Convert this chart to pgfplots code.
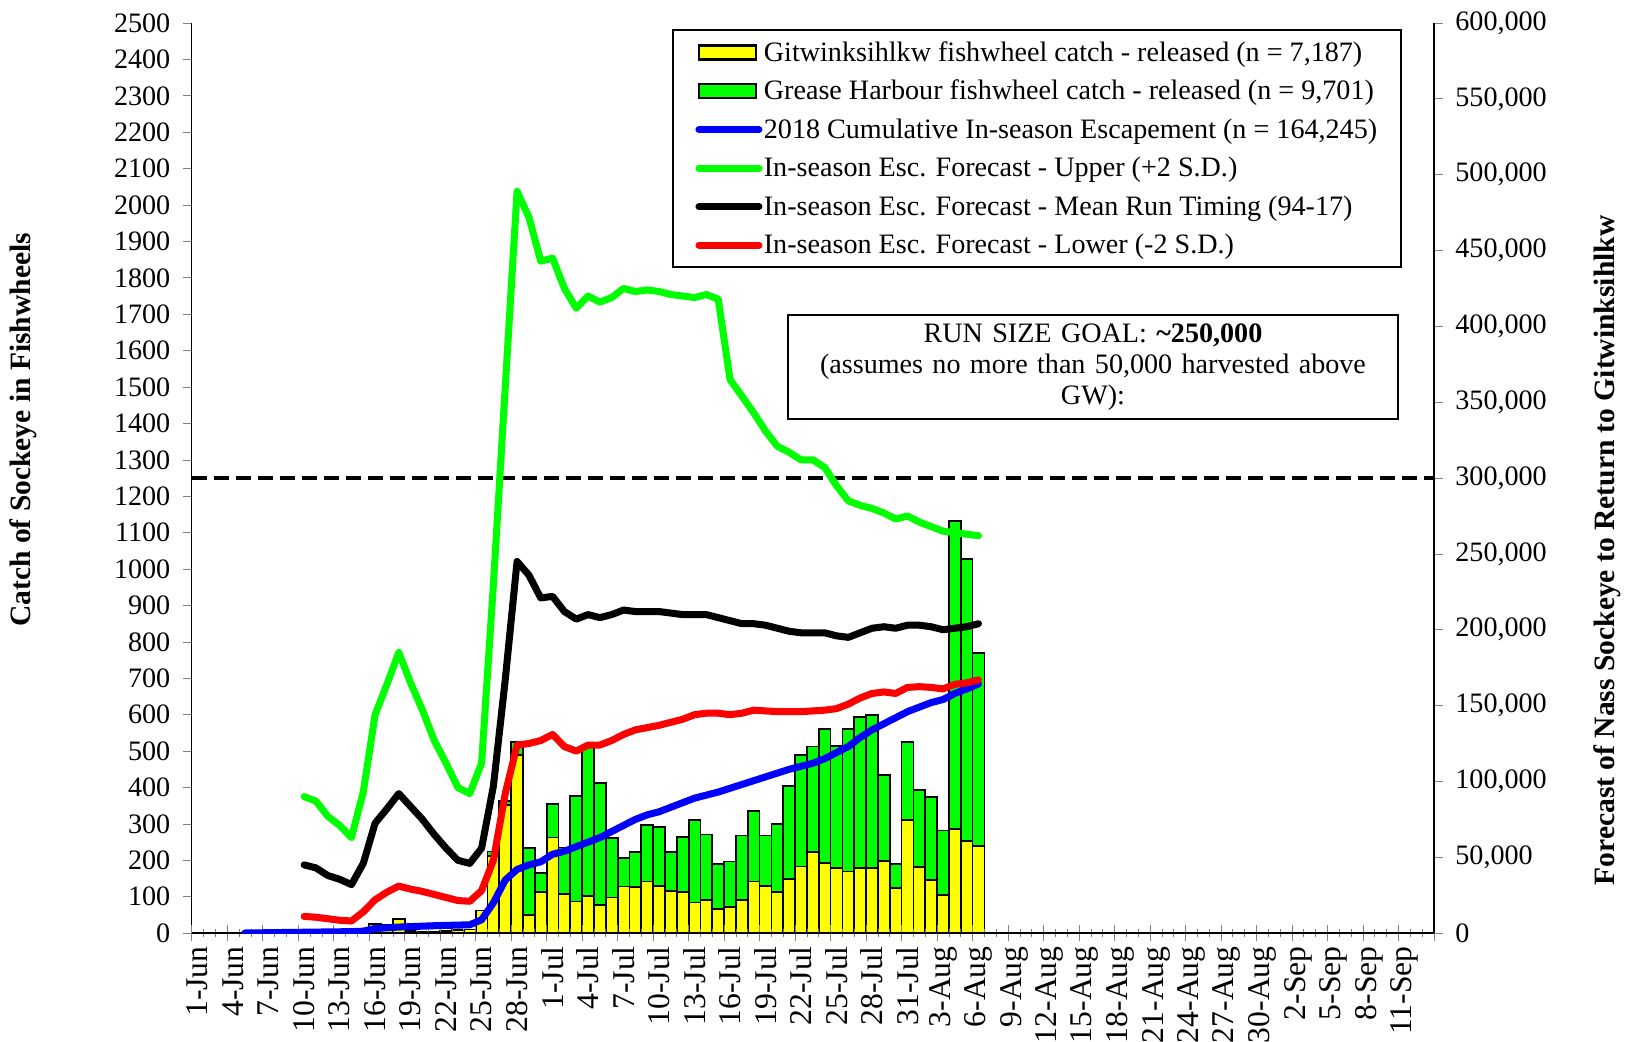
\documentclass[border=0pt]{standalone}
\usepackage{pgfplots}
\usepackage{pgfplotstable}
\pgfplotsset{compat=1.18}
\usepackage{fontspec}
\setmainfont{Liberation Serif}

\definecolor{barY}{RGB}{255,255,0}
\definecolor{barG}{RGB}{0,255,0}
\definecolor{lineB}{RGB}{0,0,255}
\definecolor{lineG}{RGB}{0,255,0}
\definecolor{lineR}{RGB}{255,0,0}

% day 1 = 1-Jun
\pgfplotstableread{
day git grease
4 2 0
16 25 0
17 22 0
18 38 0
19 6 0
20 4 0
21 3 0
22 5 0
23 8 0
24 10 0
25 62 0
26 212 12
27 353 11
28 490 35
29 50 184
30 114 51
31 263 92
32 108 127
33 87 290
34 103 412
35 78 334
36 98 164
37 128 78
38 126 96
39 142 156
40 130 161
41 116 106
42 114 150
43 84 226
44 92 179
45 67 123
46 71 126
47 92 176
48 142 194
49 130 138
50 113 187
51 149 256
52 183 306
53 222 291
54 192 369
55 179 336
56 169 392
57 179 414
58 179 420
59 199 236
60 123 67
61 311 213
62 181 213
63 147 227
64 105 177
65 286 847
66 254 774
67 240 529
}\catch

\pgfplotstableread{
day esc
5 100
6 200
7 300
8 400
9 500
10 600
11 700
12 800
13 900
14 1000
15 1300
16 3100
17 3500
18 4000
19 4300
20 4600
21 4900
22 5100
23 5300
24 5500
25 8800
26 20000
27 35000
28 42000
29 45000
30 47000
31 52000
32 54000
33 57000
34 60000
35 63000
36 67000
37 71000
38 75000
39 78000
40 80000
41 83000
42 86000
43 89000
44 91000
45 93000
46 95500
47 98000
48 100500
49 103000
50 105500
51 108000
52 110000
53 112000
54 115000
55 119000
56 123000
57 129000
58 134000
59 138000
60 142000
61 146000
62 149000
63 152000
64 154000
65 158000
66 161000
67 164245
}\escape

\pgfplotstableread{
day upper mean lower
10 90000 45000 11000
11 87000 43000 10500
12 77000 38000 9500
13 71000 35500 8500
14 63000 32000 8000
15 93000 46000 14000
16 144000 72500 22000
17 164000 82000 27000
18 185000 92000 31000
19 165000 83500 29000
20 147000 75000 27500
21 127000 65000 25500
22 112000 56000 23500
23 96000 48000 21500
24 92000 46000 21000
25 112000 56000 28000
26 230000 97000 48000
27 360000 167000 92000
28 489000 245000 124000
29 472000 236000 125000
30 443000 221000 127000
31 445000 222000 131000
32 425000 212000 123000
33 412000 207000 120000
34 420000 210000 124000
35 416000 208000 124000
36 419000 210000 127000
37 425000 213000 131000
38 423000 212000 134000
39 424000 212000 135500
40 423000 212000 137000
41 421000 211000 139000
42 420000 210000 141000
43 419000 210000 144000
44 421000 210000 145000
45 418000 208000 145000
46 365000 206000 144000
47 354000 204000 145000
48 343000 204000 147000
49 331000 203000 146500
50 321000 201000 146000
51 317000 199000 146000
52 312000 198000 146000
53 312000 198000 146500
54 307000 198000 147000
55 295000 196000 148000
56 285000 195000 151000
57 282000 198000 155000
58 280000 201000 158000
59 277000 202000 159000
60 273000 201000 158000
61 275000 203000 162000
62 271000 203000 162500
63 268000 202000 162000
64 265000 200000 161000
65 264000 201000 164000
66 263000 202000 165000
67 262000 204000 167000
}\forecast

\begin{document}
\begin{tikzpicture}[font=\fontsize{8}{9.6}\selectfont]
\pgfplotsset{every axis/.append style={
    width=124.2mm, height=91mm, scale only axis,
    xmin=0.5, xmax=105.5,
    /pgf/number format/assume math mode=true}}

% bars, left axis
\begin{axis}[name=ax,
    ymin=0, ymax=2500,
    axis x line*=bottom, axis y line*=left,
    ytick={0,100,...,2500},
    yticklabel style={/pgf/number format/1000 sep={}},
    xtick={1,4,...,103},
    xticklabels={1-Jun,4-Jun,7-Jun,10-Jun,13-Jun,16-Jun,19-Jun,22-Jun,25-Jun,28-Jun,1-Jul,4-Jul,7-Jul,10-Jul,13-Jul,16-Jul,19-Jul,22-Jul,25-Jul,28-Jul,31-Jul,3-Aug,6-Aug,9-Aug,12-Aug,15-Aug,18-Aug,21-Aug,24-Aug,27-Aug,30-Aug,2-Sep,5-Sep,8-Sep,11-Sep},
    xticklabel style={rotate=90, anchor=east, font=\fontsize{9}{10}\selectfont, inner sep=1pt},
    major x tick style={draw=none},
    tick align=outside, major tick length=0.9mm,
    ylabel={Catch of Sockeye in Fishwheels},
    ylabel style={at={(rel axis cs:-0.1358,0.553)}, anchor=center, font=\fontsize{8.4}{10}\selectfont\bfseries},
    ybar stacked, bar width=1,
]
\addplot[fill=barY, draw=black, line width=0.5pt] table[x=day, y=git]{\catch};
\addplot[fill=barG, draw=black, line width=0.5pt] table[x=day, y=grease]{\catch};
\end{axis}

% day ticks
\begin{axis}[
    ymin=0, ymax=1,
    axis y line=none, axis x line*=bottom,
    xtick={0.5,3.5,...,105.5}, xticklabels={},
    minor xtick={0.5,1.5,...,105.5},
    tick align=center, major tick length=1.6mm, minor tick length=0.8mm,
]
\end{axis}

% forecast lines, right axis
\begin{axis}[
    ymin=0, ymax=600000,
    axis y line*=right, axis x line=none,
    ytick={0,50000,...,600000}, scaled y ticks=false,
    yticklabel style={/pgf/number format/fixed, /pgf/number format/1000 sep={,}},
    tick align=outside, major tick length=0.9mm,
    ylabel={Forecast of Nass Sockeye to Return to Gitwinksihlkw},
    ylabel style={at={(rel axis cs:1.1393,0.4206)}, anchor=center, font=\fontsize{8.4}{10}\selectfont\bfseries},
    legend cell align=left,
    legend style={at={(0.974,0.993)}, anchor=north east, draw=black, line width=0.6pt, fill=white,
        font=\fontsize{8}{9.6}\selectfont, inner xsep=2.2mm, inner ysep=1.2pt, row sep=0.75pt,
        nodes={inner sep=0.4pt, text depth=0.22em, text height=0.72em}},
]
\addlegendimage{legend image code/.code={\draw[fill=barY, draw=black, line width=0.7pt] (0mm,-0.7mm) rectangle (5.7mm,0.7mm);}}
\addlegendentry{Gitwinksihlkw fishwheel catch - released (n = 7,187)}
\addlegendimage{legend image code/.code={\draw[fill=barG, draw=black, line width=0.7pt] (0mm,-0.7mm) rectangle (5.7mm,0.7mm);}}
\addlegendentry{Grease Harbour fishwheel catch - released (n = 9,701)}

\addplot[black, line width=1.1pt, dash pattern=on 1.5mm off 0.7mm, forget plot] coordinates {(0.5,300000) (105.5,300000)};

\addplot[lineB, line width=2pt, line cap=round, line join=round] table[x=day, y=esc]{\escape};
\addlegendentry{2018 Cumulative In-season Escapement (n = 164,245)}
\addplot[lineG, line width=2pt, line cap=round, line join=round] table[x=day, y=upper]{\forecast};
\addlegendentry{In-season Esc. Forecast - Upper (+2 S.D.)}
\addplot[black, line width=2pt, line cap=round, line join=round] table[x=day, y=mean]{\forecast};
\addlegendentry{In-season Esc. Forecast - Mean Run Timing (94-17)}
\addplot[lineR, line width=2pt, line cap=round, line join=round] table[x=day, y=lower]{\forecast};
\addlegendentry{In-season Esc. Forecast - Lower (-2 S.D.)}

\node[draw=black, line width=0.6pt, fill=white, text width=59mm, align=center,
      inner xsep=1mm, inner ysep=0.8mm, font=\fontsize{8}{8.9}\selectfont]
  at (rel axis cs:0.7255,0.622)
  {RUN SIZE GOAL: \textbf{\textasciitilde250,000}\\(assumes no more than 50,000 harvested above\\GW):};
\end{axis}

\pgfresetboundingbox
\path[use as bounding box] ([xshift=-19.17mm,yshift=-10.87mm]ax.south west) rectangle ([xshift=19.7mm,yshift=2.3mm]ax.north east);
\end{tikzpicture}
\end{document}
